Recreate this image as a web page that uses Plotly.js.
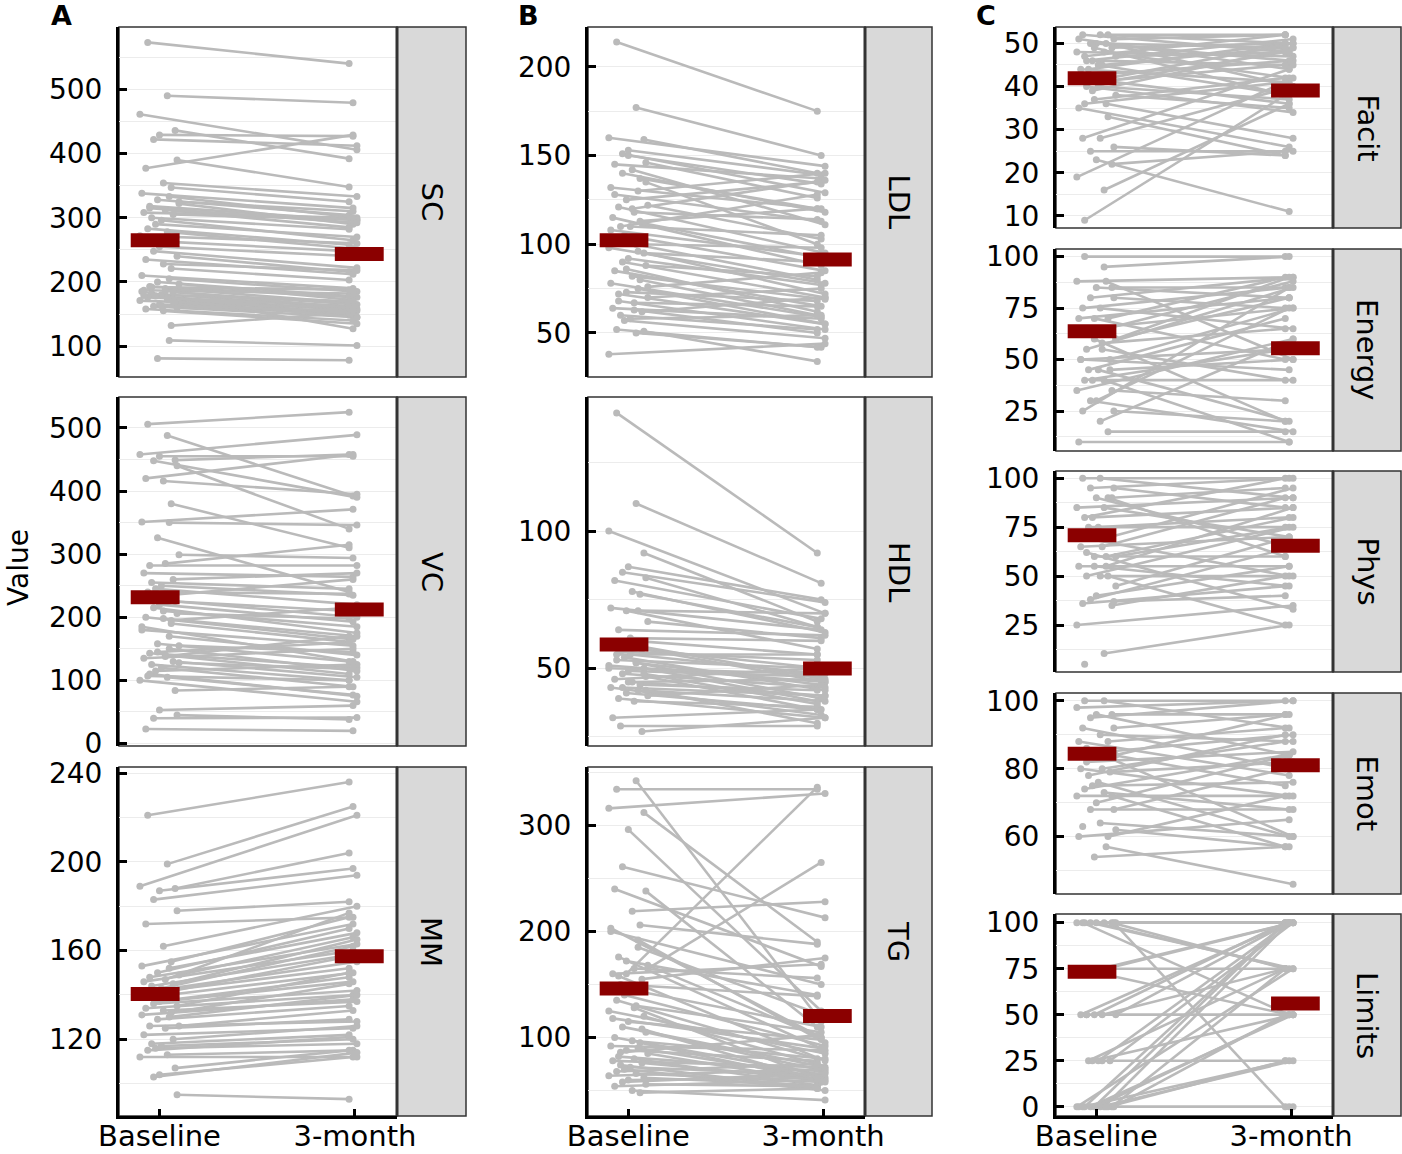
<!DOCTYPE html>
<html><head><meta charset="utf-8">
<script src="https://cdn.plot.ly/plotly-3.0.1.min.js"></script>
<style>html,body{margin:0;padding:0;background:#fff;}#chart{width:1402px;height:1154px;}</style>
</head><body><div id="chart"></div>
<script>
// ---------------- DATA ----------------
const categories = ['Baseline', '3-month'];
const panelNames = ['SC','VC','MM','LDL','HDL','TG','Facit','Energy','Phys','Emot','Limits'];

const scBase = [573,490,461,436,429,422,390,377,354,347,338,333,328,322,318,312,308,305,300,296,290,283,278,272,262,255,248,240,235,228,221,210,205,200,197,193,190,187,184,182,180,178,176,174,171,168,165,162,160,158,155,132,185,109,81,325,315,186,179,170,192,163];
const scM3   = [540,479,406,392,427,412,348,429,333,325,315,300,304,290,296,285,300,297,282,265,270,258,252,260,248,240,222,216,212,218,203,190,185,178,172,176,168,182,165,160,170,155,163,150,158,148,162,145,152,140,135,152,127,101,78,310,292,160,150,145,188,155];
const scMean = [265, 243.5];

const vcBase = [506,488,458,449,455,448,440,420,416,380,351,350,326,299,282,285,270,260,255,250,245,240,235,230,225,220,215,206,200,198,190,180,170,158,155,143,140,135,130,125,120,115,107,105,100,84,53,40,45,23,210,195,185,150,145,128,110,138];
const vcM3   = [525,392,489,458,455,390,340,458,395,310,371,346,240,294,282,315,264,270,245,235,220,237,260,200,210,193,175,198,165,170,161,155,140,130,145,120,110,150,105,100,90,125,100,77,66,90,60,41,38,20,185,215,130,115,160,118,75,170];
const vcMean = [231.7, 212.4];

const mmBase = [221,199,189,188,187,183,178,172,162,155,153,152,150,149,148,147,146,145,144,143,142,141,140,139,138,137,136,135,134,133,132,131,130,129,126,126,125,122,120,118,117,116,115,113,112,107,104,103,95];
const mmM3   = [236,225,221,204,197,194,182,175,180,175,172,168,170,166,163,177,160,165,158,162,155,152,150,158,148,146,142,150,140,137,145,138,140,135,133,128,129,125,126,122,120,118,121,115,112,115,112,114,93];
const mmMean = [140.4, 157.5];

const ldlBase = [214,177,160,159,153,151,146,145,142,137,132,130,125,122,121,118,115,112,110,110,105,102,100,98,95,92,90,88,85,82,80,78,75,73,70,68,67,64,62,60,58,57,52,50,38,51,150,140,135,128,120,113,108,96,86,76,72,63];
const ldlM3   = [175,150,144,140,139,129,126,137,111,120,120,140,135,103,95,114,88,92,128,105,85,80,98,78,90,77,70,82,65,69,60,59,55,68,75,52,65,58,70,52,60,47,42,42,44,34,134,118,100,113,136,120,93,72,62,84,55,50];
const ldlMean = [102.3, 91.4];

const hdlBase = [143,110,100,92,87,85,83,82,78,77,72,71,71,67,64,60,58,57,56,55,54,53,52,51,50,49,48,47,46,45,44,43,42,41,40,39,38,32,27,29,61,59,55,52,50,48,45,43,42];
const hdlM3   = [92,81,70,67,75,74,65,68,63,65,64,70,57,61,62,55,50,45,53,48,42,50,39,45,38,47,43,35,50,40,42,33,38,35,44,32,36,35,32,29,60,46,55,44,48,37,46,40,30];
const hdlMean = [58.7, 49.9];

const tgBase = [334,342,316,312,296,261,238,240,219,206,203,192,160,165,176,165,160,155,150,145,140,135,130,125,120,115,110,105,100,97,95,92,90,88,85,82,80,78,76,74,72,70,68,66,64,62,60,58,56,54,50,48,200,185,172,168,158,128,118,108,86];
const tgM3   = [334,115,330,190,125,213,110,167,228,188,100,95,336,265,88,156,169,175,139,110,92,80,105,85,75,98,72,70,65,80,60,88,62,78,58,68,55,72,60,52,65,50,75,58,70,55,62,66,54,60,41,52,150,120,140,100,78,62,90,58,102];
const tgMean = [146.2, 120.2];

const facitBase = [9,16,19,22,23,25,26,28,28,33,35,36,37,38,40,41,42,43,44,45,46,47,48,48,49,50,50,51,52,52,52,51,50,49,47,46,45,44,42,41,40,39,36];
const facitM3   = [38,36,42,25,11,25,24,44,40,24,26,28,42,35,34,48,36,46,50,38,45,52,42,47,50,46,49,52,48,50,52,44,40,38,48,51,49,41,50,45,37,49,41];
const facitMean = [41.9, 39.1];

const energyBase = [100,95,88,85,85,80,80,75,75,70,70,65,60,60,55,55,50,50,45,45,40,40,40,35,35,30,30,25,25,20,15,10,88,70,60,65,58,50,45];
const energyM3   = [100,100,90,85,80,90,75,85,65,90,80,88,20,80,85,40,45,75,70,20,40,55,10,60,30,75,15,20,85,60,15,10,50,50,90,75,65,55,50];
const energyMean = [63.8, 55.5];

const physBase = [5,10.5,25,35,40,38,37,36,50,50,55,55,60,60,62,65,65,70,75,75,80,80,85,85,90,90,95,95,100,100,90,70,60,55,45,50];
const physM3   = [null,25,35,50,55,65,40,45,50,25,55,85,60,75,33,90,70,95,75,80,85,100,70,90,95,65,100,85,100,90,60,50,80,45,70,75];
const physMean = [70.9, 65.5];

const emotBase = [100,100,98,96,96,95,92,92,90,88,88,85,85,84,82,80,80,79,78,76,75,74,73,72,72,70,68,68,63,64,60,60,57,54,62,86];
const emotM3   = [100,92,100,96,84,100,96,80,88,92,78,90,75,96,85,88,72,82,90,60,76,84,68,72,57,84,68,80,null,60,72,65,46,57,57,60];
const emotMean = [84.4, 81];

const limitsBase = [100,100,100,100,100,100,100,100,75,75,75,75,50,50,50,50,50,25,25,25,25,0,0,0,0,0,0,0,0,0,0,0,0,0,100,50,25];
const limitsM3   = [100,100,100,75,75,75,0,50,100,75,50,100,100,100,50,75,100,100,75,100,50,100,100,75,75,50,50,50,25,25,25,0,0,100,100,50,25];
const limitsMean = [73.3, 56.1];

// ---------------- LAYOUT / STYLE ----------------
const W = 1402, H = 1154;
const FONT = 'DejaVu Sans';
const GREY = '#bababa';
const RED = '#8b0000';
const JIT = [-0.06,0.04,-0.1,0.08,0.0,-0.03,0.09,-0.07,0.02,0.06,-0.09,0.05,-0.01,0.1,-0.05,0.03,-0.08,0.07,-0.04,0.01,-0.02];
const cols = [{x0:119,x1:397,s1:466},{x0:588,x1:865,s1:932},{x0:1056,x1:1333,s1:1401}];
const XR = [0.793, 2.215];

const panels = [
  {b:scBase, m:scM3, mean:scMean, col:0, top:27, bot:377, range:[52,597], dtick:100},
  {b:vcBase, m:vcM3, mean:vcMean, col:0, top:397, bot:746, range:[-4,549], dtick:100},
  {b:mmBase, m:mmM3, mean:mmMean, col:0, top:767, bot:1116, range:[85.4,242.8], dtick:40, bottom:true},
  {b:ldlBase, m:ldlM3, mean:ldlMean, col:1, top:27, bot:377, range:[25.2,222.4], dtick:50},
  {b:hdlBase, m:hdlM3, mean:hdlMean, col:1, top:397, bot:746, range:[21.7,148.8], dtick:50},
  {b:tgBase, m:tgM3, mean:tgMean, col:1, top:767, bot:1116, range:[26,355], dtick:100, bottom:true},
  {b:facitBase, m:facitM3, mean:facitMean, col:2, top:27, bot:228, range:[7.2,53.8], dtick:10},
  {b:energyBase, m:energyM3, mean:energyMean, col:2, top:249, bot:451, range:[5.6,103.7], dtick:25},
  {b:physBase, m:physM3, mean:physMean, col:2, top:471, bot:672, range:[1,103.7], dtick:25},
  {b:emotBase, m:emotM3, mean:emotMean, col:2, top:693, bot:894, range:[43.1,102.3], dtick:20},
  {b:limitsBase, m:limitsM3, mean:limitsMean, col:2, top:914, bot:1116, range:[-5.0,104.7], dtick:25, bottom:true}
];

const traces = [];
const layout = {
  width: W, height: H, autosize: false,
  margin: {l:0, r:0, t:0, b:0},
  paper_bgcolor: '#ffffff', plot_bgcolor: 'rgba(0,0,0,0)',
  showlegend: false,
  font: {family: FONT, color: '#000'},
  shapes: [], annotations: []
};

panels.forEach((p, i) => {
  const k = i + 1;
  const xa = k === 1 ? 'x' : 'x' + k;
  const ya = k === 1 ? 'y' : 'y' + k;
  const c = cols[p.col];
  const xs = [], ys = [];
  for (let j = 0; j < p.b.length; j++) {
    xs.push(1 + JIT[j % JIT.length], 2 + JIT[(j * 7 + 5) % JIT.length], null);
    ys.push(p.b[j], p.m[j], null);
  }
  traces.push({type:'scatter', mode:'lines+markers', x:xs, y:ys, xaxis:xa, yaxis:ya,
    line:{color:GREY, width:2.6}, marker:{color:GREY, size:7}, hoverinfo:'skip', connectgaps:false});
  traces.push({type:'scatter', mode:'lines', xaxis:xa, yaxis:ya, hoverinfo:'skip',
    x:[0.978-0.125, 0.978+0.125, null, 2.022-0.125, 2.022+0.125],
    y:[p.mean[0], p.mean[0], null, p.mean[1], p.mean[1]],
    line:{color:RED, width:14}});

  layout[k === 1 ? 'xaxis' : 'xaxis' + k] = {
    domain:[c.x0 / W, c.x1 / W], range: XR, anchor: ya,
    tickvals:[1,2], ticktext: categories, showticklabels: !!p.bottom,
    ticks: p.bottom ? 'inside' : '', ticklen: 7, tickwidth: 3, tickcolor: '#000',
    showline: !!p.bottom, linecolor: '#000', linewidth: 3,
    showgrid: false, zeroline: false, fixedrange: true,
    tickfont: {family: FONT, size: 29, color: '#000'}, ticklabelstandoff: -8
  };
  layout[k === 1 ? 'yaxis' : 'yaxis' + k] = {
    domain:[1 - p.bot / H, 1 - p.top / H], range: p.range, anchor: xa,
    tick0: 0, dtick: p.dtick, ticks: 'inside', ticklen: 8, tickwidth: 3, tickcolor: '#000',
    showline: true, linecolor: '#000', linewidth: 3,
    showgrid: true, gridcolor: '#ececec', gridwidth: 1,
    minor: {tick0: 0, dtick: p.dtick / 2, showgrid: true, gridcolor: '#ececec', gridwidth: 1, ticks: ''},
    zeroline: false, fixedrange: true,
    tickfont: {family: FONT, size: 28, color: '#000'}, ticklabelstandoff: 8
  };

  layout.shapes.push({type:'rect', xref:'paper', yref:'paper', layer:'below',
    x0: c.x0 / W, x1: c.x1 / W, y0: 1 - p.bot / H, y1: 1 - p.top / H,
    line:{color:'#333', width:1.5}, fillcolor:'rgba(0,0,0,0)'});
  layout.shapes.push({type:'rect', xref:'paper', yref:'paper', layer:'below',
    x0: c.x1 / W, x1: c.s1 / W, y0: 1 - p.bot / H, y1: 1 - p.top / H,
    line:{color:'#333', width:1.5}, fillcolor:'#d9d9d9'});
  layout.shapes.push({type:'line', xref:'paper', yref:'paper', layer:'above',
    x0: c.x1 / W, x1: c.x1 / W, y0: 1 - p.bot / H, y1: 1 - p.top / H,
    line:{color:'#333', width:3}});
  layout.annotations.push({xref:'paper', yref:'paper', showarrow:false,
    x: (c.x1 + c.s1) / 2 / W, y: 1 - (p.top + p.bot) / 2 / H,
    xanchor:'center', yanchor:'middle', textangle: 90,
    text: panelNames[i], font:{family: FONT, size: 29, color:'#000'}});
});

[['A',61],['B',528],['C',986]].forEach(([t, x]) => {
  layout.annotations.push({xref:'paper', yref:'paper', showarrow:false,
    x: x / W, y: 1 - 15 / H, xanchor:'center', yanchor:'middle',
    text: '<b>' + t + '</b>', font:{family: FONT, size: 27, color:'#000'}});
});
layout.annotations.push({xref:'paper', yref:'paper', showarrow:false,
  x: 18 / W, y: 1 - 568 / H, xanchor:'center', yanchor:'middle', textangle: -90,
  text: 'Value', font:{family: FONT, size: 28, color:'#000'}});

Plotly.newPlot('chart', traces, layout, {staticPlot: true, displayModeBar: false});
</script>
</body></html>
